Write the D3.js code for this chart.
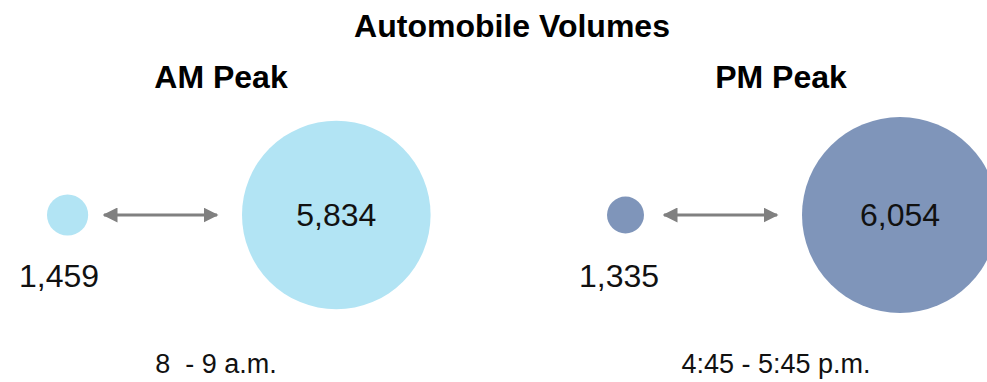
<!DOCTYPE html>
<html>
<head>
<meta charset="utf-8">
<script src="https://cdn.jsdelivr.net/npm/d3@7"></script>
<style>
  body { margin: 0; background: #fff; }
  svg { display: block; font-family: "Liberation Sans", Arial, sans-serif; }
  .title { font-weight: bold; font-size: 32px; }
  .value { font-size: 32px; fill: #111; }
  .time { font-size: 27px; fill: #111; white-space: pre; }
</style>
</head>
<body>
<div id="chart"></div>
<script>
/****************************************/
/*****  Data   *****/
/****************************************/
const periods = ["AM Peak", "PM Peak"];
const timeLabels = ["8  - 9 a.m.", "4:45 - 5:45 p.m."];
const lowVolumes = [1459, 1335];
const highVolumes = [5834, 6054];
const periodColors = ["#b2e4f4", "#7f95ba"];

const data = periods.map((p, i) => ({
  period: p,
  time: timeLabels[i],
  low: lowVolumes[i],
  high: highVolumes[i],
  color: periodColors[i]
}));

/****************************************/
/*****  Chart   *****/
/****************************************/
const width = 987;
const height = 382;
const svg = d3.select('#chart')
  .append('svg')
    .attr('viewBox', [0, 0, width, height])
    .attr('width', width)
    .attr('height', height);

// Main title
svg.append('text')
    .attr('class', 'title')
    .attr('x', 512)
    .attr('y', 37)
    .attr('text-anchor', 'middle')
    .text('Automobile Volumes');

// Arrow marker, used on both ends of the connector line
const defs = svg.append('defs');
defs.append('marker')
    .attr('id', 'arrow')
    .attr('viewBox', '0 0 10 10')
    .attr('refX', 9)
    .attr('refY', 5)
    .attr('markerWidth', 5)
    .attr('markerHeight', 5)
    .attr('markerUnits', 'strokeWidth')
    .attr('orient', 'auto-start-reverse')
  .append('path')
    .attr('d', 'M0,0 L10,5 L0,10 Z')
    .attr('fill', '#808080');

// One panel per peak period
const panelScale = d3.scaleBand()
  .domain(periods)
  .range([0, 1120]);

// Radius grows with the volume
const allVolumes = lowVolumes.concat(highVolumes);
const radiusScale = d3.scaleLinear()
  .domain(d3.extent(allVolumes))
  .range([18.5, 98]);

const circleY = 215;
const smallLeft = 47;
const bigLeft = 242;

const panels = svg.append('g')
  .selectAll('.panel')
  .data(data)
  .join('g')
    .attr('class', 'panel')
    .attr('transform', d => `translate(${panelScale(d.period)},0)`);

panels.append('text')
    .attr('class', 'title')
    .attr('x', 221)
    .attr('y', 88)
    .attr('text-anchor', 'middle')
    .text(d => d.period);

// Small circle
panels.append('circle')
    .attr('cx', d => smallLeft + radiusScale(d.low))
    .attr('cy', circleY)
    .attr('r', d => radiusScale(d.low))
    .attr('fill', d => d.color);

panels.append('text')
    .attr('class', 'value')
    .attr('x', 59)
    .attr('y', 287)
    .attr('text-anchor', 'middle')
    .text(d => d3.format(',')(d.low));

// Double headed arrow
panels.append('line')
    .attr('x1', 104)
    .attr('x2', 217)
    .attr('y1', circleY)
    .attr('y2', circleY)
    .attr('stroke', '#808080')
    .attr('stroke-width', 3)
    .attr('marker-start', 'url(#arrow)')
    .attr('marker-end', 'url(#arrow)');

// Big circle
panels.append('circle')
    .attr('cx', d => bigLeft + radiusScale(d.high))
    .attr('cy', circleY)
    .attr('r', d => radiusScale(d.high))
    .attr('fill', d => d.color);

panels.append('text')
    .attr('class', 'value')
    .attr('x', d => bigLeft + radiusScale(d.high))
    .attr('y', circleY + 11)
    .attr('text-anchor', 'middle')
    .text(d => d3.format(',')(d.high));

// Time window
panels.append('text')
    .attr('class', 'time')
    .attr('x', 216)
    .attr('y', 373)
    .attr('text-anchor', 'middle')
    .text(d => d.time);
</script>
</body>
</html>
